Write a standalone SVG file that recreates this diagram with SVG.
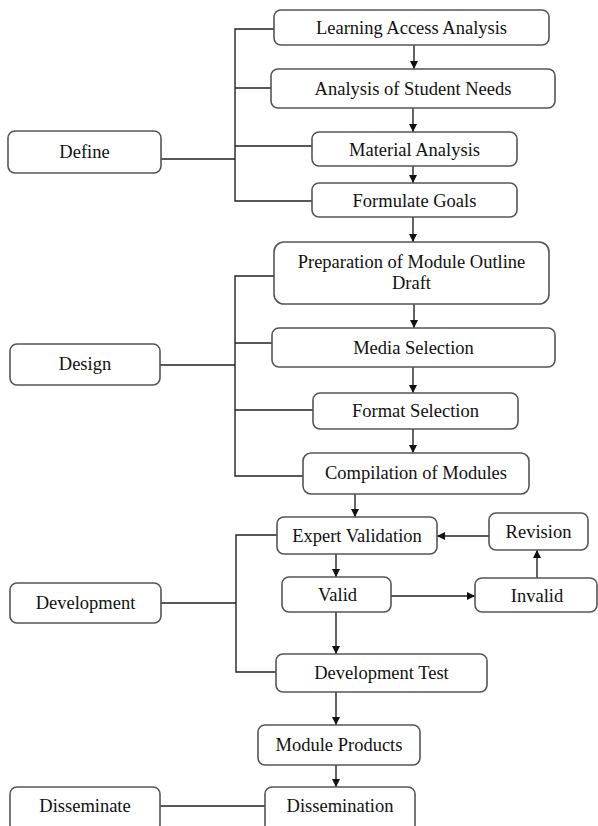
<svg xmlns="http://www.w3.org/2000/svg" width="598" height="826" viewBox="0 0 598 826">
<defs>
<marker id="ah" viewBox="0 0 10 10" refX="10" refY="5" markerWidth="8" markerHeight="9" markerUnits="userSpaceOnUse" orient="auto">
<path d="M0,0 L10,5 L0,10 Z" fill="#111"/>
</marker>
<style>
.b{fill:#fff;stroke:#555;stroke-width:1.6}
.t{font-family:"Liberation Serif","Times New Roman",serif;font-size:18.5px;fill:#111;text-anchor:middle}
.l{fill:none;stroke:#222;stroke-width:1.4}
.a{fill:none;stroke:#222;stroke-width:1.4;marker-end:url(#ah)}
</style>
</defs>
<rect width="598" height="826" fill="#fff"/>
<g id="connectors">
<path class="l" d="M274,29 H235 V201 H312 M271,88 H235 M312,146 H235 M161,159 H235"/>
<path class="l" d="M274,276 H235 V476 H303 M272,343 H235 M313,410 H235 M160,365 H235"/>
<path class="l" d="M277,535 H236 V672 H276 M161,603 H236"/>
<path class="l" d="M160,806 H265"/>
<path class="a" d="M414,45 V69"/>
<path class="a" d="M413,108 V132"/>
<path class="a" d="M413,166 V183"/>
<path class="a" d="M413,217 V242"/>
<path class="a" d="M414,304 V328"/>
<path class="a" d="M413,367 V393"/>
<path class="a" d="M413,429 V453"/>
<path class="a" d="M355,494 V517"/>
<path class="a" d="M336,554 V577"/>
<path class="a" d="M336,612 V654"/>
<path class="a" d="M336,692 V725"/>
<path class="a" d="M336,765 V787"/>
<path class="a" d="M391,596 H475"/>
<path class="a" d="M537,578 V550"/>
<path class="a" d="M489,536 H437"/>
</g>
<g id="define"><rect class="b" x="8" y="131" width="153" height="42" rx="7"/><text class="t" x="84.5" y="158">Define</text></g>
<g id="learning-access"><rect class="b" x="274" y="10" width="275" height="35" rx="7"/><text class="t" x="411.5" y="34">Learning Access Analysis</text></g>
<g id="student-needs"><rect class="b" x="271" y="69" width="284" height="39" rx="7"/><text class="t" x="413" y="95">Analysis of Student Needs</text></g>
<g id="material"><rect class="b" x="312" y="132" width="205" height="34" rx="7"/><text class="t" x="414.5" y="155.5">Material Analysis</text></g>
<g id="goals"><rect class="b" x="312" y="183" width="205" height="34" rx="7"/><text class="t" x="414.5" y="206.5">Formulate Goals</text></g>
<g id="design"><rect class="b" x="10" y="344" width="150" height="41" rx="7"/><text class="t" x="85" y="370">Design</text></g>
<g id="outline"><rect class="b" x="274" y="242" width="275" height="62" rx="10"/><text class="t" x="411.5" y="268">Preparation of Module Outline</text><text class="t" x="411.5" y="289">Draft</text></g>
<g id="media"><rect class="b" x="272" y="328" width="283" height="39" rx="7"/><text class="t" x="413.5" y="354">Media Selection</text></g>
<g id="format"><rect class="b" x="313" y="393" width="205" height="36" rx="7"/><text class="t" x="415.5" y="417">Format Selection</text></g>
<g id="compilation"><rect class="b" x="303" y="453" width="226" height="41" rx="8"/><text class="t" x="416" y="479">Compilation of Modules</text></g>
<g id="development"><rect class="b" x="10" y="583" width="151" height="40" rx="7"/><text class="t" x="85.5" y="609">Development</text></g>
<g id="expert"><rect class="b" x="277" y="517" width="160" height="37" rx="7"/><text class="t" x="357" y="541.5">Expert Validation</text></g>
<g id="revision"><rect class="b" x="489" y="513" width="99" height="37" rx="7"/><text class="t" x="538.5" y="538">Revision</text></g>
<g id="valid"><rect class="b" x="282" y="577" width="109" height="35" rx="7"/><text class="t" x="337.5" y="601">Valid</text></g>
<g id="invalid"><rect class="b" x="475" y="578" width="122" height="34" rx="7"/><text class="t" x="537" y="601.5">Invalid</text></g>
<g id="dev-test"><rect class="b" x="276" y="654" width="211" height="38" rx="7"/><text class="t" x="381.5" y="679">Development Test</text></g>
<g id="module-products"><rect class="b" x="258" y="725" width="162" height="40" rx="7"/><text class="t" x="339" y="751">Module Products</text></g>
<g id="disseminate"><rect class="b" x="10" y="787" width="150" height="45" rx="7"/><text class="t" x="85" y="812">Disseminate</text></g>
<g id="dissemination"><rect class="b" x="265" y="787" width="150" height="45" rx="7"/><text class="t" x="340" y="812">Dissemination</text></g>
</svg>
